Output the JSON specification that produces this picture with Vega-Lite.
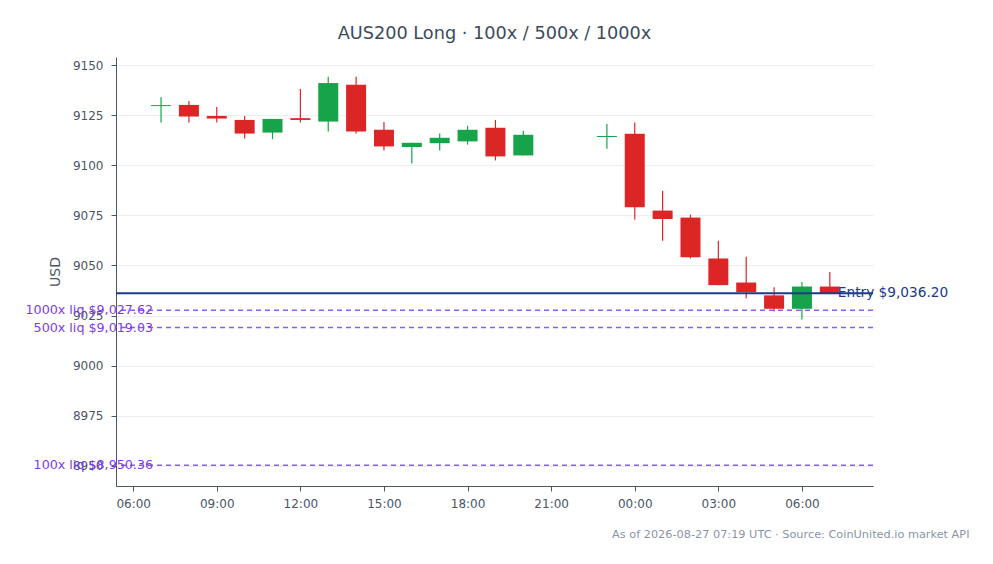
{
  "$schema": "https://vega.github.io/schema/vega-lite/v6.json",
  "autosize": "none",
  "width": 757,
  "height": 429,
  "padding": {"left": 116, "top": 57, "right": 120, "bottom": 78},
  "background": "white",
  "config": {
    "font": "DejaVu Sans",
    "view": {"stroke": null},
    "axis": {
      "labelFont": "DejaVu Sans",
      "titleFont": "DejaVu Sans",
      "labelColor": "#4a5568",
      "labelFontSize": 12,
      "domainColor": "#4a5568",
      "tickColor": "#4a5568",
      "tickSize": 5,
      "gridColor": "#eceef2"
    }
  },
  "title": {
    "text": "AUS200 Long · 100x / 500x / 1000x",
    "fontSize": 17.7,
    "fontWeight": "normal",
    "color": "#3d4a5c",
    "anchor": "middle",
    "frame": "group",
    "offset": 14
  },
  "datasets": {
    "candles": [
      {"t": "2026-08-26T07:00:00Z", "open": 9129.5, "high": 9133.9, "low": 9121.3, "close": 9130.0},
      {"t": "2026-08-26T08:00:00Z", "open": 9130.1, "high": 9132.1, "low": 9121.3, "close": 9124.3},
      {"t": "2026-08-26T09:00:00Z", "open": 9124.6, "high": 9129.1, "low": 9121.3, "close": 9123.3},
      {"t": "2026-08-26T10:00:00Z", "open": 9122.6, "high": 9124.6, "low": 9113.3, "close": 9115.8},
      {"t": "2026-08-26T11:00:00Z", "open": 9116.3, "high": 9123.1, "low": 9113.0, "close": 9123.1},
      {"t": "2026-08-26T12:00:00Z", "open": 9123.5, "high": 9138.0, "low": 9121.3, "close": 9122.6},
      {"t": "2026-08-26T13:00:00Z", "open": 9121.8, "high": 9144.2, "low": 9116.8, "close": 9141.0},
      {"t": "2026-08-26T14:00:00Z", "open": 9140.2, "high": 9144.2, "low": 9115.8, "close": 9116.8},
      {"t": "2026-08-26T15:00:00Z", "open": 9117.7, "high": 9121.6, "low": 9107.4, "close": 9109.4},
      {"t": "2026-08-26T16:00:00Z", "open": 9109.1, "high": 9111.2, "low": 9100.9, "close": 9111.2},
      {"t": "2026-08-26T17:00:00Z", "open": 9111.0, "high": 9115.8, "low": 9107.4, "close": 9113.7},
      {"t": "2026-08-26T18:00:00Z", "open": 9111.9, "high": 9119.7, "low": 9110.3, "close": 9117.7},
      {"t": "2026-08-26T19:00:00Z", "open": 9118.7, "high": 9122.6, "low": 9102.4, "close": 9104.4},
      {"t": "2026-08-26T20:00:00Z", "open": 9104.9, "high": 9117.2, "low": 9104.9, "close": 9115.2},
      {"t": "2026-08-26T23:00:00Z", "open": 9114.1, "high": 9120.6, "low": 9108.2, "close": 9114.6},
      {"t": "2026-08-27T00:00:00Z", "open": 9115.7, "high": 9121.3, "low": 9072.9, "close": 9079.0},
      {"t": "2026-08-27T01:00:00Z", "open": 9077.4, "high": 9087.3, "low": 9062.4, "close": 9073.2},
      {"t": "2026-08-27T02:00:00Z", "open": 9073.9, "high": 9075.4, "low": 9053.5, "close": 9054.1},
      {"t": "2026-08-27T03:00:00Z", "open": 9053.5, "high": 9062.4, "low": 9040.2, "close": 9040.2},
      {"t": "2026-08-27T04:00:00Z", "open": 9041.5, "high": 9054.3, "low": 9033.6, "close": 9036.7},
      {"t": "2026-08-27T05:00:00Z", "open": 9035.1, "high": 9039.2, "low": 9027.1, "close": 9028.4},
      {"t": "2026-08-27T06:00:00Z", "open": 9028.4, "high": 9041.7, "low": 9023.1, "close": 9039.5},
      {"t": "2026-08-27T07:00:00Z", "open": 9039.5, "high": 9046.7, "low": 9036.2, "close": 9036.2}
    ],
    "liq": [
      {"label": "1000x liq $9,027.62", "price": 9027.62, "t": "2026-08-26T07:00:00Z"},
      {"label": "500x liq $9,019.03", "price": 9019.03, "t": "2026-08-26T07:00:00Z"},
      {"label": "100x liq $8,950.36", "price": 8950.36, "t": "2026-08-26T07:00:00Z"}
    ],
    "entry": [
      {"label": "Entry $9,036.20", "price": 9036.2, "t": "2026-08-27T07:00:00Z"}
    ]
  },
  "layer": [
    {
      "data": {"name": "candles"},
      "mark": {"type": "rule", "strokeWidth": 1.2},
      "encoding": {
        "x": {
          "field": "t",
          "type": "temporal",
          "scale": {"type": "utc", "domain": [1787721780000, 1787819580000], "nice": false, "padding": 0},
          "axis": {
            "format": "%H:%M",
            "values": [1787724000000, 1787734800000, 1787745600000, 1787756400000, 1787767200000, 1787778000000, 1787788800000, 1787799600000, 1787810400000],
            "grid": false,
            "labelPadding": 7,
            "title": "As of 2026-08-27 07:19 UTC · Source: CoinUnited.io market API",
            "titleX": 853,
            "titleY": 48,
            "titleAlign": "right",
            "titleBaseline": "middle",
            "titleColor": "#8a94a6",
            "titleFontSize": 11.3,
            "titleFontWeight": "normal"
          }
        },
        "y": {
          "field": "low",
          "type": "quantitative",
          "scale": {"domain": [8940, 9154], "nice": false, "zero": false},
          "axis": {
            "title": "USD",
            "format": "d",
            "values": [8950, 8975, 9000, 9025, 9050, 9075, 9100, 9125, 9150],
            "titleColor": "#4a5568",
            "titleFontSize": 14,
            "titleFontWeight": "normal",
            "titlePadding": 10,
            "labelPadding": 8
          }
        },
        "y2": {"field": "high"},
        "color": {
          "condition": {"test": "datum.close >= datum.open", "value": "#16a34a"},
          "value": "#dc2626"
        }
      }
    },
    {
      "data": {"name": "candles"},
      "mark": {"type": "bar", "width": 20},
      "encoding": {
        "x": {"field": "t", "type": "temporal"},
        "y": {"field": "open", "type": "quantitative"},
        "y2": {"field": "close"},
        "color": {
          "condition": {"test": "datum.close >= datum.open", "value": "#16a34a"},
          "value": "#dc2626"
        }
      }
    },
    {
      "data": {"name": "entry"},
      "mark": {"type": "rule", "color": "#1e3a8a", "strokeWidth": 2},
      "encoding": {
        "y": {"field": "price", "type": "quantitative"}
      }
    },
    {
      "data": {"name": "liq"},
      "mark": {"type": "rule", "color": "#8b5cf6", "strokeWidth": 1.5, "strokeDash": [5, 4]},
      "encoding": {
        "y": {"field": "price", "type": "quantitative"}
      }
    },
    {
      "data": {"name": "entry"},
      "mark": {"type": "text", "align": "left", "baseline": "middle", "dx": 8, "fontSize": 13.7, "color": "#1e3a8a"},
      "encoding": {
        "x": {"field": "t", "type": "temporal"},
        "y": {"field": "price", "type": "quantitative"},
        "text": {"field": "label"}
      }
    },
    {
      "data": {"name": "liq"},
      "mark": {"type": "text", "align": "right", "baseline": "middle", "dx": -8, "fontSize": 12.7, "color": "#7c3aed"},
      "encoding": {
        "x": {"field": "t", "type": "temporal"},
        "y": {"field": "price", "type": "quantitative"},
        "text": {"field": "label"}
      }
    }
  ]
}
